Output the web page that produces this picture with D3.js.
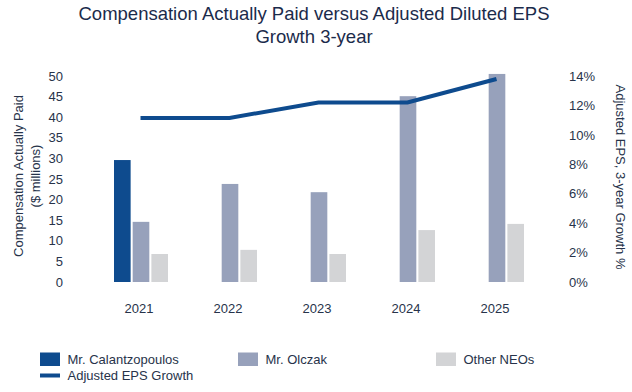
<!DOCTYPE html>
<html><head><meta charset="utf-8">
<script src="https://cdn.jsdelivr.net/npm/d3@7"></script>
<style>body{margin:0;background:#fff}svg{display:block;font-family:"Liberation Sans",Arial,sans-serif}</style>
</head><body><svg id="c" width="632" height="392"></svg>
<script>
const years = ["2021","2022","2023","2024","2025"];
const calantzopoulos = [29.6, null, null, null, null];
const olczak = [14.6, 23.8, 21.8, 45.1, 50.5];
const otherNEOs = [6.8, 7.8, 6.8, 12.6, 14.1];
const epsGrowth = [11.15, 11.15, 12.2, 12.2, 13.8];
const leftTicks = [0,5,10,15,20,25,30,35,40,45,50];
const rightTicks = [0,2,4,6,8,10,12,14];

const series = [
  {name:"Mr. Calantzopoulos", values:calantzopoulos, color:"#0e4b8e"},
  {name:"Mr. Olczak", values:olczak, color:"#97a1bb"},
  {name:"Other NEOs", values:otherNEOs, color:"#d3d4d6"}
];
const textColor = "#27334a";
const svg = d3.select("#c");
const plotTop = 76, plotBottom = 282;
const x = d3.scaleBand().domain(years).range([96.5, 541.5]);
const xi = d3.scaleBand().domain(series.map(s=>s.name)).range([0,54]).paddingInner(0.11).paddingOuter(0);
const y = d3.scaleLinear().domain([0,50]).range([plotBottom, plotTop]);
const y2 = d3.scaleLinear().domain([0,14]).range([plotBottom, plotTop]);

// title
svg.append("text").attr("x",314).attr("y",20).attr("text-anchor","middle").attr("font-size",18.5).attr("fill","#1b2b4b").text("Compensation Actually Paid versus Adjusted Diluted EPS");
svg.append("text").attr("x",314).attr("y",43).attr("text-anchor","middle").attr("font-size",18.5).attr("fill","#1b2b4b").text("Growth 3-year");

// bars
series.forEach(s=>{
  svg.append("g").selectAll("rect").data(years.map((yr,i)=>({yr,v:s.values[i]})).filter(d=>d.v!=null))
    .join("rect")
    .attr("x",d=>x(d.yr)+x.bandwidth()/2-27+xi(s.name))
    .attr("width",xi.bandwidth())
    .attr("y",d=>y(d.v))
    .attr("height",d=>y(0)-y(d.v))
    .attr("fill",s.color);
});

// line
const line = d3.line().x((d,i)=>x(years[i])+x.bandwidth()/2-0.5).y(d=>y2(d));
svg.append("path").datum(epsGrowth).attr("d",line).attr("fill","none").attr("stroke","#0e4b8e").attr("stroke-width",4);

// axes
const la = svg.append("g").attr("transform","translate(68,0)").call(d3.axisLeft(y).tickValues(leftTicks).tickSize(0).tickPadding(5));
const ra = svg.append("g").attr("transform","translate(564,0)").call(d3.axisRight(y2).tickValues(rightTicks).tickSize(0).tickPadding(5).tickFormat(d=>d+"%"));
const xa = svg.append("g").attr("transform","translate(-2,"+(plotBottom+11)+")").call(d3.axisBottom(x).tickSize(0).tickPadding(11));
[la,ra,xa].forEach(a=>{a.select(".domain").remove();a.selectAll("text").attr("font-size",13).attr("fill",textColor).attr("font-family","Liberation Sans, Arial, sans-serif");});

// axis titles
const lt = svg.append("text").attr("transform","translate(23,176) rotate(-90)").attr("text-anchor","middle").attr("font-size",13).attr("fill",textColor);
lt.append("tspan").attr("x",0).attr("y",0).text("Compensation Actually Paid");
lt.append("tspan").attr("x",0).attr("y",16.5).text("($ millions)");
svg.append("text").attr("transform","translate(616,177) rotate(90)").attr("text-anchor","middle").attr("font-size",13).attr("fill",textColor).text("Adjusted EPS, 3-year Growth %");

// legend
const lpos = [40, 238, 436];
series.forEach((s,i)=>{
  svg.append("rect").attr("x",lpos[i]).attr("y",352.5).attr("width",20).attr("height",13.5).attr("fill",s.color);
  svg.append("text").attr("x",lpos[i]+27.5).attr("y",364).attr("font-size",13).attr("fill",textColor).text(s.name);
});
svg.append("line").attr("x1",40).attr("x2",60).attr("y1",375.5).attr("y2",375.5).attr("stroke","#0e4b8e").attr("stroke-width",4);
svg.append("text").attr("x",67.5).attr("y",380).attr("font-size",13).attr("fill",textColor).text("Adjusted EPS Growth");
</script></body></html>
